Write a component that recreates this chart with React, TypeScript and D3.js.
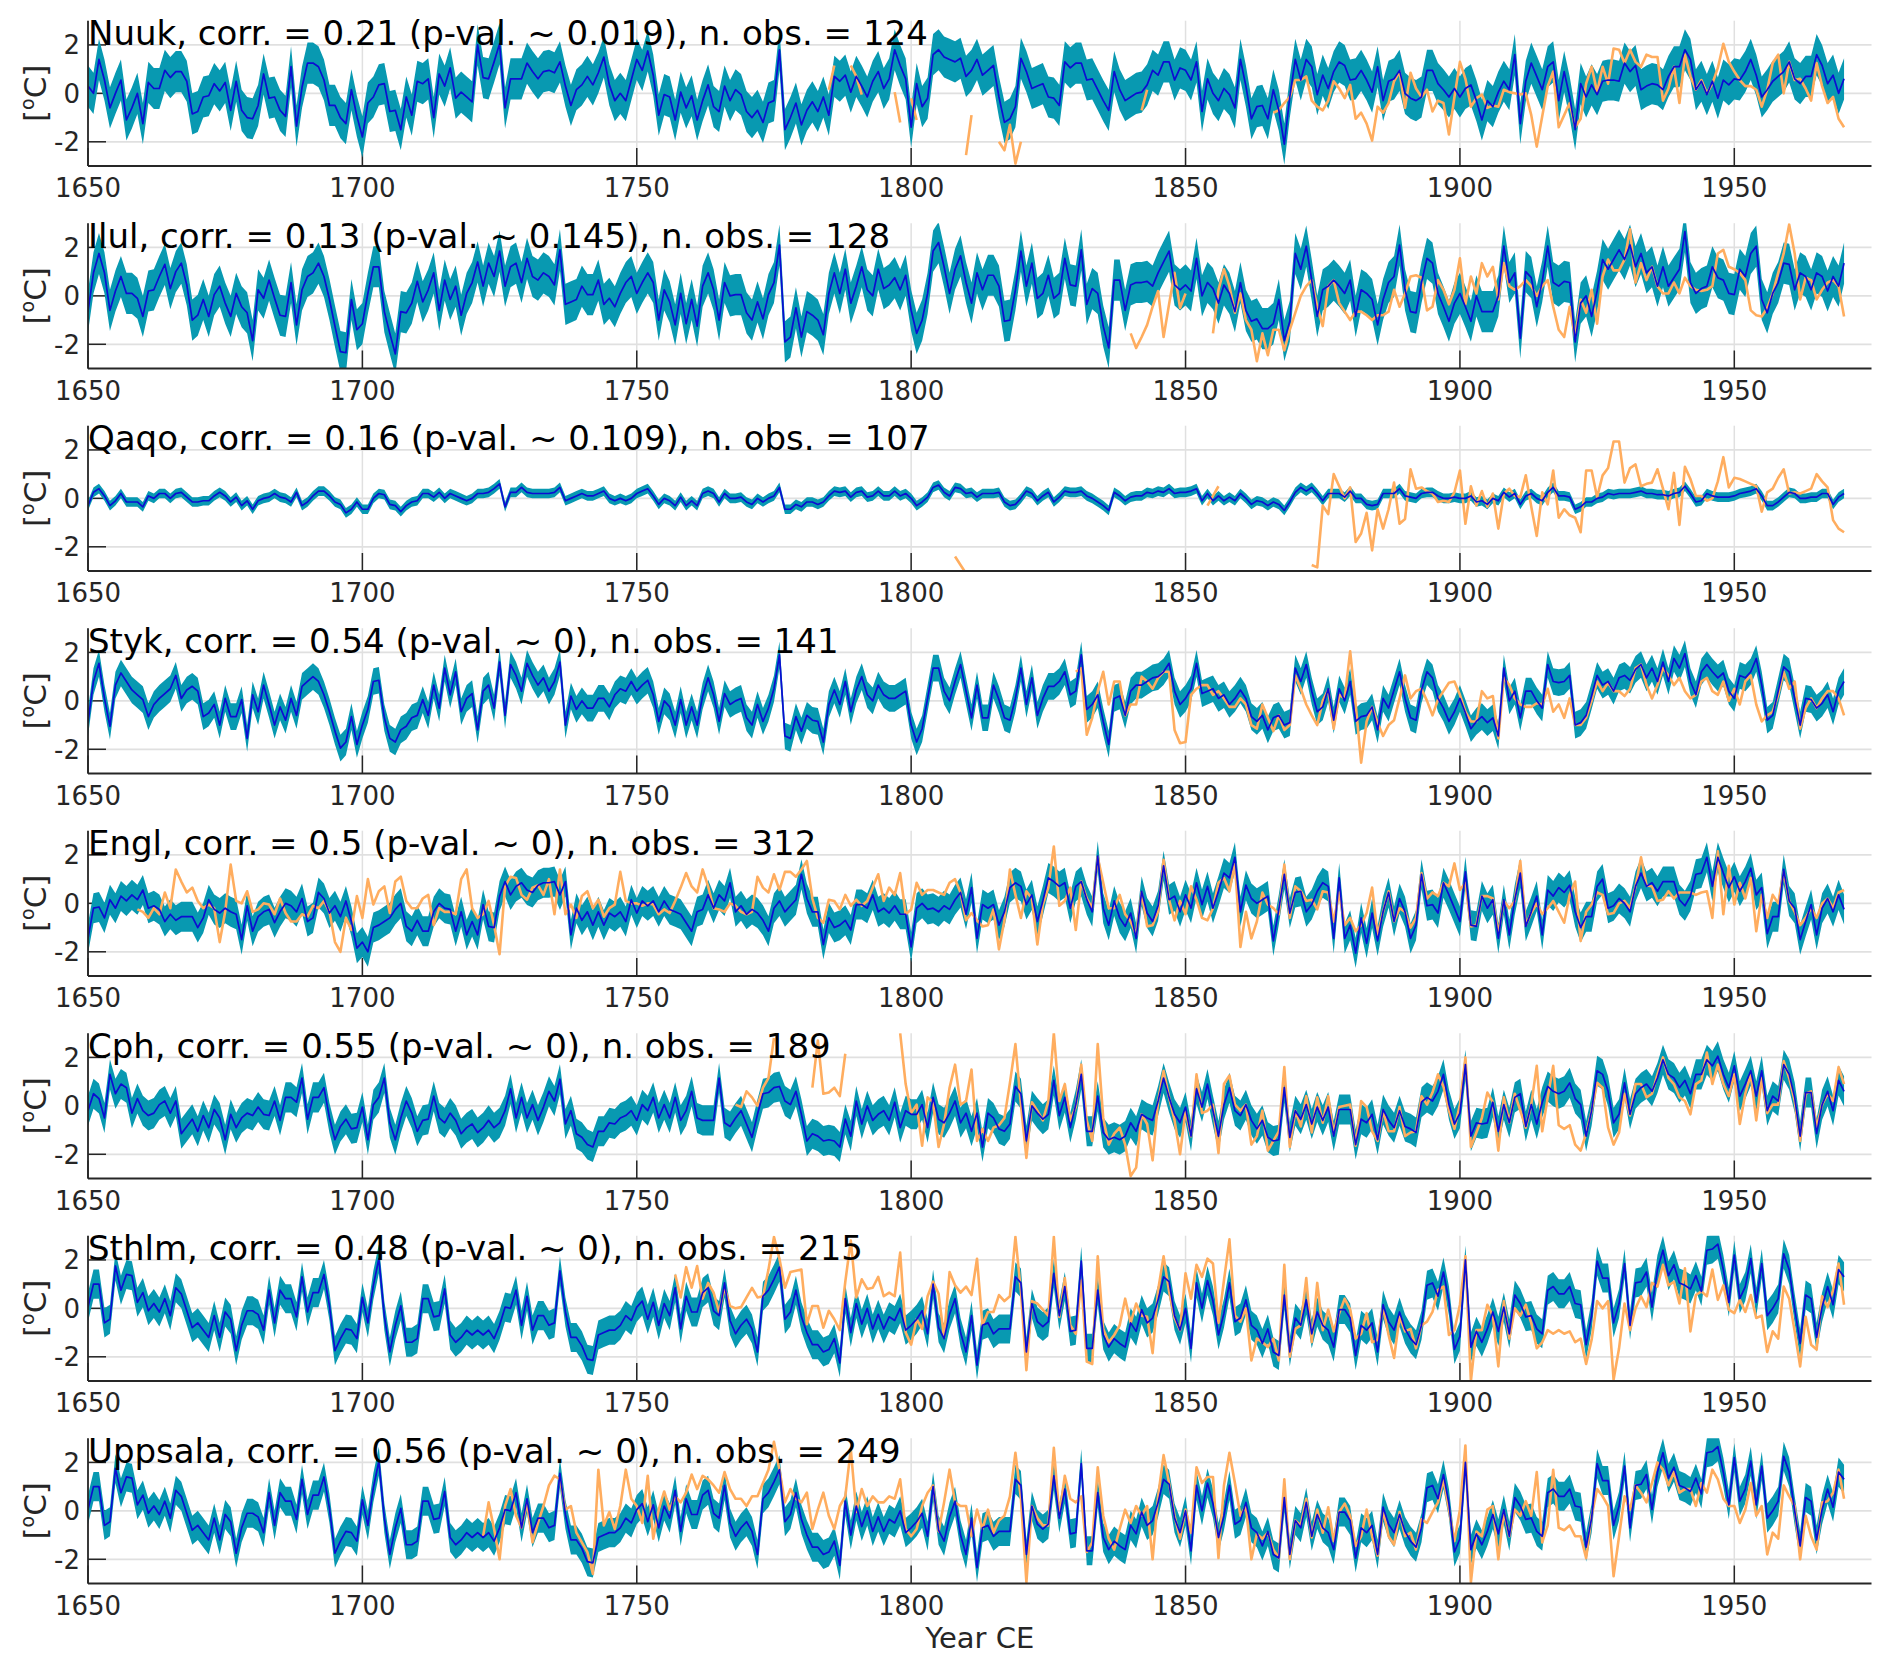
import React from 'react';
import * as d3 from 'd3';

const N = null;

// ---- station meta ----
const stationNames = ['Nuuk', 'Ilul', 'Qaqo', 'Styk', 'Engl', 'Cph', 'Sthlm', 'Uppsala'];
const corrValues = ['0.21', '0.13', '0.16', '0.54', '0.5', '0.55', '0.48', '0.56'];
const pValues = ['0.019', '0.145', '0.109', '0', '0', '0', '0', '0'];
const nObs = [124, 128, 107, 141, 312, 189, 215, 249];
const bandHalfWidth = [0.85, 0.85, 0.2, 0.55, 0.62, 0.62, 0.6, 0.6];
const reconStartYear = 1650;
const obsStartYear = [1785, 1840, 1808, 1830, 1659, 1768, 1757, 1722];
const xTickYears = [1650, 1700, 1750, 1800, 1850, 1900, 1950];
const yTickValues = [-2, 0, 2];

// ---- reconstructions (1650-1970) ----
const nuukRecon = [
  0.3, 0.0, 1.4, 0.55, -0.6, 0, 0.55, -1.1, -0.6, 0,
  -1.25, 0.45, 0.2, 0.2, 0.95, 0.65, 0.9, 0.9, 0.5, -0.85,
  -0.75, -0.15, -0.1, 0.4, 0.1, 0.45, -0.7, 0.5, -0.7, -1.0,
  -1.05, -0.5, 0.8, -0.2, -0.15, -0.7, -0.95, 1.1, -1.35, 0.25,
  1.25, 1.25, 1.1, 0.55, -0.5, -0.5, -1.0, -1.25, 0.15, -0.95,
  -1.8, -0.4, -0.15, 0.35, 0.4, -0.75, -0.7, -1.5, -0.15, -0.9,
  0.5, 0.4, 0.6, -1.0, 0.8, 0.3, 1.05, -0.2, 0.05, -0.15,
  -0.35, 2.0, 0.65, 0.6, 1.3, 2.05, -0.6, 0.6, 0.6, 0.6,
  1.25, 0.9, 0.6, 0.9, 0.95, 0.85, 1.3, 0.3, -0.5, 0.15,
  0.35, 0.7, 0.35, 0.85, 1.5, 0.35, -0.3, 0, -0.3, 0.55,
  1.4, 0.95, 1.75, 0.75, -0.9, -0.05, -0.15, -1.1, 0.05, -0.6,
  -0.1, -1.1, -0.3, 0.35, -0.55, -0.75, 0.3, -0.3, 0.15, -0.05,
  -0.75, -1.0, -0.7, -1.2, -0.4, -0.3, 1.8, -1.5, -1.0, -0.4,
  -1.3, -0.7, -0.35, -0.75, -0.15, -0.9, 0.7, 0.5, 0.75, 0.05,
  0.7, 0.3, -0.15, 0.5, 0.9, 0.2, 0.6, 1.8, 1.15, 0.6,
  -1.4, 0.4, -0.55, -0.2, 1.6, 1.8, 1.5, 1.4, 1.3, 1.45,
  0.7, 0.95, 1.4, 0.75, 0.95, 1.15, -0.15, -1.2, -1.05, -0.55,
  1.45, 0.9, 0.2, 0.3, 0.4, -0.15, -0.2, -0.5, 1.3, 1.05,
  1.25, 1.25, 0.55, 0.6, 0.15, -0.3, -0.7, 0.9, 0.15, -0.3,
  -0.15, 0, 0.05, 0.35, 0.95, 0.75, 1.3, 1.3, 0.55, 1.05,
  0.95, 0.55, 1.3, -0.75, 0.6, 0, -0.3, 0.2, -0.05, -0.6,
  1.4, 0.3, -1.05, -0.55, -0.5, -1.05, 0.15, -0.7, -2.1, -0.15,
  1.4, 0.55, 1.4, 1.1, -0.05, 0.75, 0.2, 0.9, 1.3, 1.15,
  0.55, 0.6, 0.95, 0.55, 0.05, 1.1, -0.3, 0.5, 0.6, 0.95,
  0, -0.2, -0.3, -0.15, 0.95, 0.95, 0.4, 0.15, -0.15, 0.2,
  -0.15, 0.2, 0.35, -0.3, -1.1, -0.3, -0.55, 0.05, 0.5, 0.15,
  1.6, -1.25, 0.5, 1.25, 0.7, 0.15, 1.1, 1.3, -0.3, 0.9,
  -0.15, -1.5, 0.4, -0.15, 0.35, -0.05, 0.5, 0.55, 0.55, 0.5,
  1.25, 0.9, 1.15, 0.15, 0.3, 0.4, 0.35, 0.15, 0.7, 1.1,
  1.1, 1.8, 1.4, 0.15, 0.5, -0.05, 0.5, -0.2, 0.55, 0.35,
  0.6, 0.55, 0.9, 1.4, 0.75, -0.15, 0.15, 0.5, 0.7, 0.9,
  1.3, 0.6, 0.4, 0.7, 0.7, 1.6, 1.15, 0.4, 0.75, 0,
  0.6,
];

const ilulRecon = [
  -0.65, 0.95, 1.75, 0.95, -0.6, 0.2, 0.8, 0.1, 0.1, -0.1,
  -0.85, 0.2, 0.25, 0.8, 1.3, 0.3, 1.0, 1.35, 0.45, -1.0,
  -0.8, -0.15, -0.85, 0.05, 0.4, -0.3, -0.85, 0.1, -0.45, -0.7,
  -1.85, 0.25, -0.1, 0.65, -0.1, -0.8, -0.85, 0.55, -1.2, 0.25,
  0.8, 0.95, 1.35, 0.8, -0.15, -1.25, -2.3, -2.35, -0.15, -1.4,
  -1.15, 0.1, 1.2, 1.2, -0.65, -1.55, -2.4, -0.65, -0.7, -0.3,
  0.6, -0.25, 0.25, 0.95, -0.6, 0.65, -0.15, 0.4, -0.8, 0.1,
  0.55, 1.4, 0.4, 1.35, 0.8, 1.85, 0.4, 1.2, 1.35, 0.55,
  1.55, 0.8, 0.65, 0.95, 0.8, 0.45, 1.9, -0.35, -0.25, -0.15,
  0.4, 0.05, 0.05, 0.65, -0.35, -0.1, -0.45, 0.1, 0.55, 0.8,
  0.1, 0.55, 0.95, 0.55, -1.0, 0.25, -0.25, -1.2, 0.1, -1.15,
  -0.15, -1.25, 0.4, 0.95, 0.25, -1.0, 0.55, 0, 0.05, 0.05,
  -0.7, -1.0, -0.25, -0.95, 0.05, 0.55, 2.1, -1.9, -1.7, -0.5,
  -1.7, -0.65, -0.8, -1.0, -1.6, 0.1, 0.95, 0.1, 1.1, -0.3,
  0.4, 1.2, 0.25, 0, 1.1, 0.3, 0.45, 0.75, 0.25, 0.85,
  -0.6, -1.55, -1.0, 0.1, 1.85, 2.2, 1.2, 0.1, 1.1, 1.65,
  0.55, -0.3, 0.95, 0.25, 0.85, 0.85, 0.4, -1.05, -1.0, 0.25,
  1.85, 0.4, 1.35, -0.1, 0.1, 0.85, -0.1, 0.1, 1.55, 0.45,
  0.4, 1.9, -0.35, 0.3, 0.1, -1.25, -2.15, 0.65, 0.65, -0.6,
  0.45, 0.55, 0.55, 0.6, 0.4, 0.95, 1.4, 1.85, 0.45, 0.25,
  0.45, 0.2, 1.55, 0, 0.55, 0.3, -0.3, 0.45, 0.1, -0.65,
  0.55, -0.6, -1.05, -0.95, -1.35, -1.35, -1.15, -0.15, -1.85, -1.05,
  1.75, 1.1, 2.05, 0.65, -0.85, 0.25, 0.4, 0.65, 0.4, 0.1,
  0.65, -0.85, 0.25, 0.1, -0.15, -1.2, -0.15, 0.55, 0.8, 2.1,
  0.25, -0.65, -0.7, 0.55, 1.55, 1.35, 0.1, -0.45, -1.05, -0.3,
  0.1, -0.45, -1.05, 0, -0.65, -0.65, -0.65, 0, 2.05, 0.55,
  0.95, -1.75, 1.0, 0.75, -0.45, 0.6, 2.05, 0.55, 0.4, 0.6,
  0.55, -1.9, -0.3, 0, -0.85, 0.2, 1.5, 1.1, 1.5, 1.9,
  1.5, 2.1, 1.2, 1.75, 0.95, 1.2, 0.4, 1.2, 0.4, 0.75,
  1.1, 2.65, 0.55, 0.1, 0.3, 0.4, 1.2, 0.75, 0.65, 0.1,
  0.05, 1.1, 0.8, 1.75, 2.05, -0.15, -0.7, 0.1, 0.55, 1.35,
  1.3, 0.25, 0.95, 0.8, 0.25, 0.95, 0.8, 0.2, 0.8, 0.4,
  1.35,
];

const qaqoRecon = [
  -0.3, 0.25, 0.4, 0.1, -0.3, -0.1, 0.2, -0.15, -0.15, -0.15,
  -0.35, 0.1, 0, 0.2, 0.2, 0, 0.2, 0.25, 0.05, -0.15,
  -0.15, -0.1, -0.1, 0.1, 0.25, 0.1, -0.15, 0.05, -0.3, -0.1,
  -0.45, -0.1, 0, 0.05, 0.2, 0.05, 0, -0.15, 0.25, -0.3,
  -0.15, 0.1, 0.3, 0.3, 0.1, -0.15, -0.25, -0.6, -0.45, -0.15,
  -0.45, -0.45, 0, 0.2, 0.15, -0.25, -0.3, -0.55, -0.3, -0.15,
  -0.1, 0.2, 0.2, 0.05, 0.25, 0, 0.2, 0.1, 0, -0.1,
  0, 0.2, 0.2, 0.25, 0.4, 0.6, -0.35, 0.25, 0.25, 0.45,
  0.25, 0.2, 0.2, 0.2, 0.2, 0.25, 0.45, -0.1, 0, 0.1,
  0.2, 0.1, 0.1, 0.2, 0.3, 0, -0.1, 0, -0.1, 0,
  0.2, 0.3, 0.4, 0.1, -0.25, 0, -0.1, -0.3, 0.05, -0.3,
  -0.1, -0.3, 0.2, 0.3, 0.2, -0.15, 0.2, 0, 0, 0.05,
  -0.15, -0.25, 0, -0.15, 0, 0.1, 0.45, -0.45, -0.45, -0.25,
  -0.35, -0.15, -0.15, -0.25, -0.15, 0.1, 0.3, 0.25, 0.3, 0.05,
  0.25, 0.3, 0.05, 0.1, 0.3, 0.1, 0.1, 0.3, 0.1, 0.2,
  0, -0.3, -0.15, 0.05, 0.45, 0.55, 0.25, 0.1, 0.45, 0.4,
  0.2, 0.25, 0.05, 0.2, 0.2, 0.2, 0.25, -0.15, -0.3, -0.25,
  0, 0.3, 0.2, -0.1, 0.1, 0.25, -0.15, 0.05, 0.3, 0.25,
  0.25, 0.3, 0.1, 0, -0.15, -0.3, -0.5, 0.25, 0.1, -0.1,
  0.05, 0.1, 0.1, 0.25, 0.2, 0.3, 0.25, 0.4, 0.2, 0.25,
  0.25, 0.3, 0.4, -0.1, 0.2, -0.1, 0.1, -0.1, 0.05, -0.1,
  0.2, 0, -0.25, -0.1, -0.15, -0.3, -0.15, -0.25, -0.5, -0.15,
  0.25, 0.45, 0.3, 0.45, 0.2, -0.1, 0.2, 0.2, 0.2, 0.05,
  0.3, 0, 0, -0.25, -0.3, -0.25, 0.2, 0.2, 0.2, 0.4,
  0.1, 0.05, 0, 0.2, 0.25, 0.25, 0.1, 0, 0, 0.05,
  0, 0, 0.1, -0.15, -0.1, -0.25, 0, -0.1, 0.25, 0.05,
  0.2, -0.25, 0.1, 0.2, 0, -0.1, 0.25, 0.45, 0.1, 0.1,
  0.05, -0.45, -0.35, -0.15, -0.15, 0, 0.05, 0.2, 0.15, 0.2,
  0.2, 0.2, 0.25, 0.3, 0.2, 0.2, 0.15, 0.15, 0.1, 0.2,
  0.25, 0.5, 0.2, -0.15, -0.1, 0.2, 0.1, 0.05, 0.05, 0.05,
  0.1, 0.2, 0.25, 0.3, 0.4, 0.1, -0.3, -0.3, -0.15, 0.05,
  0.25, 0.2, 0, 0, 0.05, 0.05, 0.2, 0.2, -0.25, 0.05,
  0.2,
];

const stykRecon = [
  -0.9, 0.8, 1.55, 0.1, -1.05, 0.65, 1.15, 0.8, 0.45, 0.25,
  0.05, -0.65, -0.15, 0.1, 0.3, 0.5, 1.05, 0.1, 0.45, 0.6,
  0.4, -0.65, -0.5, -0.15, -1.0, 0.1, -0.65, -0.65, 0.05, -1.55,
  0.25, -0.45, 0.65, -0.15, -1.0, -0.25, -0.8, 0.1, -0.6, 0.6,
  0.8, 1.0, 0.8, 0.25, -0.45, -1.25, -1.95, -1.7, -0.65, -1.8,
  -1.0, -0.35, 0.8, 0.85, -0.7, -1.55, -1.7, -1.2, -1.05, -0.7,
  -0.6, 0.05, -0.6, 0.65, -0.3, 1.35, 0.25, 1.2, -0.45, 0.1,
  0.3, -1.2, 0.4, 0.65, -0.3, 1.6, -0.6, 1.5, 1.05, 0.4,
  1.55, 1.05, 0.65, 0.95, 0.4, 0.8, 1.6, -1.0, 0.2, -0.35,
  0, -0.3, -0.3, 0.1, 0.1, -0.25, 0.25, 0.5, 0.4, 0.8,
  0.4, 0.65, 0.85, 0.25, -0.85, 0, -0.25, -1.0, 0.05, -1.0,
  -0.25, -1.0, 0.2, 0.95, 0.25, -0.85, 0.3, -0.15, 0, 0.1,
  -0.7, -1.0, -0.15, -0.85, -0.3, 0.5, 1.9, -1.45, -1.55, -0.65,
  -1.25, -0.6, -0.8, -0.85, -1.7, -0.15, 0.45, -0.15, 0.8, -0.45,
  0.45, 1.0, 0.25, 0, 0.65, 0.25, 0.1, 0.1, 0.25, 0.4,
  -1.0, -1.7, -1.15, 0.1, 1.35, 1.35, 0.4, 0, 0.8, 1.5,
  0.4, -0.7, 0.65, -0.7, -0.7, 0.65, 0.05, -0.7, -0.8, 0.1,
  1.35, -0.15, 0.95, -0.6, 0.1, 0.6, 0.6, 0.8, 1.2, 0.25,
  0.4, 1.9, -0.35, -0.15, 0.25, -0.85, -1.8, 0.1, 0.2, -0.6,
  0.4, 0.65, 0.65, 0.8, 0.95, 1.0, 1.2, 1.55, 0.4, -0.15,
  0.1, 0.5, 1.55, 0.3, 0.4, 0.5, 0.1, 0.25, -0.15, 0.1,
  0.45, 0.1, -0.65, -0.85, -0.6, -1.2, -0.7, -0.6, -1.0, -0.9,
  1.35, 0.8, 1.5, 0.4, -0.45, -0.25, 0.5, -0.8, 0.5, 0,
  0.8, -0.85, -0.65, -0.6, -0.25, -1.2, 0.1, -0.3, 0.45, 1.2,
  0.1, -0.7, -0.8, 0.45, 1.2, 0.95, 0.1, -0.3, -0.85, -0.45,
  0.1, -0.5, -1.15, -0.85, -0.65, -0.9, -0.7, -1.45, 1.35, 0,
  0.4, -0.7, 0.4, 0.4, 0, -0.3, 1.5, 0.8, 0.75, 0.8,
  1.05, -1.0, -0.9, -0.6, 0.2, 1.05, 0.65, 0.8, 0.4, 0.95,
  1.05, 0.85, 1.3, 1.5, 0.95, 1.35, 0.8, 1.6, 0.8, 1.75,
  1.35, 1.95, 0.8, 0.25, 1.2, 1.5, 1.2, 0.95, 1.15, 0.4,
  0.1, 1.05, 0.95, 1.2, 1.75, 0.65, -0.8, -0.6, 0.4, 1.4,
  1.2, 0.1, -1.0, 0.1, 0.05, -0.3, -0.1, 0.25, -0.45, 0.4,
  0.8,
];

const englRecon = [
  -1.45, -0.2, -0.15, -0.6, 0.15, -0.2, 0.3, 0.1, 0.35, 0.15,
  0.55, -0.2, -0.1, -0.25, -0.75, -0.45, -0.7, -0.55, -0.55, -0.55,
  -1.0, -0.6, 0.15, -0.25, -0.4, -0.2, -0.35, -0.45, -1.5, -0.1,
  -1.15, -0.55, -0.35, -0.25, -0.8, -0.35, 0, -0.1, -0.35, 0.2,
  -0.75, -0.6, 0.45, 0.2, -0.4, -0.1, -0.55, 0.1, -0.75, -1.85,
  -1.6, -2.0, -1.0, -0.9, -0.75, -0.6, -0.25, 0, -0.95, -1.15,
  -0.7, -1.15, -1.15, -0.35, 0, -0.2, -0.25, -1.15, -0.35, -1.3,
  -0.75, -1.3, -0.05, -0.95, -1.0, 0.3, 0.9, 0.35, 0.7, 0.85,
  0.55, 0.45, 0.75, 0.85, 0.85, 0.9, 0.35, 0.9, -1.3, -0.2,
  -0.7, -0.35, -0.9, -0.35, -0.9, -0.4, -0.55, -0.35, -0.75, 0.15,
  -0.4, 0.1, -0.1, 0.1, -0.35, 0.1, -0.25, -0.35, -0.45, -0.8,
  -1.15, -0.35, -0.25, 0.35, -0.2, 0.35, 0.1, 0.85, -0.35, -0.1,
  -0.45, -0.25, -0.4, -0.7, -1.15, -0.2, 0.1, -0.35, -0.1, 0.15,
  1.2, 0.2, -0.35, -0.35, -1.7, -0.6, -1.0, -0.9, -0.7, -1.1,
  -0.05, -0.05, -0.2, 0.35, -0.35, -0.2, -0.4, -0.1, -0.45, -0.45,
  -1.8, -0.2, 0, -0.25, -0.2, -0.35, -0.1, -0.25, 0.15, 0.45,
  -0.45, 0.65, -1.45, -0.05, -0.2, -0.05, -0.9, -0.35, 0.65, 0.85,
  0.7, -0.05, 0.35, -0.75, 0.1, 1.05, 0.9, 0.7, 0.85, -0.2,
  0.7, 0.9, 0.15, -0.35, 1.95, -0.2, -0.9, 0.1, -0.6, -0.95,
  -0.4, -1.45, 0.5, -0.4, -0.75, -0.1, 1.55, 0.15, 0.3, -0.35,
  0.35, -0.2, 0.85, -0.05, 0.7, -0.2, 0.5, 1.25, 1.05, 1.9,
  -0.35, 0.75, 0.2, 0, 0.15, 0.3, -1.55, -0.25, 1.2, -0.4,
  0.45, 0.5, -0.35, -0.05, 0.5, 0.85, 0.7, -1.45, 1.05, -1.45,
  -0.9, -2.05, -0.6, -1.65, -0.4, -1.55, -0.35, 0.45, -0.75, 0.2,
  -0.35, -1.45, -0.9, 1.2, -0.1, -0.05, -0.4, 0.85, 0.35, -0.2,
  -0.75, 1.3, -0.9, -0.95, 0.3, -0.2, 0.15, -1.45, 0.15, -1.3,
  0.15, 1.25, -0.95, -0.35, 0.3, -1.3, 0.55, 0.3, 0.65, 0.45,
  0.75, -0.35, -1.0, -0.55, -0.55, 0.7, 1.0, -0.2, -0.1, 0.2,
  0, -0.35, 0.7, 1.25, 0.7, 0.85, 0.5, 0.9, 0.9, 0.9,
  0.15, -0.1, 0.3, 1.2, 1.25, 1.9, 0.7, 1.9, 1.25, 0.65,
  1.1, 0.5, 0.9, 1.45, 0.35, 0.65, -1.25, -0.55, -0.55, 1.4,
  0.1, -0.2, -1.5, -0.75, -0.05, -1.3, -0.2, 0.2, -0.35, 0.35,
  -0.25,
];

const cphRecon = [
  -0.2, 0.5, 0.3, -0.5, 1.3, 0.5, 0.9, 0.75, -0.3, 0.3,
  -0.2, -0.4, -0.3, 0.05, 0.2, -0.3, 0.2, -1.15, -0.85, -0.55,
  -1.05, -0.4, -0.9, -0.15, -0.5, -1.4, -0.35, -0.9, -0.5, -0.3,
  -0.4, -0.05, -0.35, -0.4, 0.2, -0.6, 0.35, 0.35, 0.15, 1.15,
  -0.55, 0.35, 0.35, 0.75, -0.5, -1.4, -0.85, -0.55, -0.95, -0.9,
  -0.05, -1.4, 0.05, 0.35, 1.15, -0.7, -1.4, -0.5, 0.2, -0.3,
  -1.05, -0.6, -0.55, 0.4, -0.5, -0.7, -0.3, -0.6, -1.15, -0.9,
  -0.75, -1.1, -0.9, -0.6, -0.9, -0.7, -0.2, 0.7, -0.5, 0.35,
  -0.5, 0.05, -0.6, -0.05, 0.6, 0.2, 1.1, -0.75, -0.2, -1.15,
  -1.3, -1.6, -1.7, -1.05, -1.05, -0.7, -0.75, -0.5, -0.4, -0.2,
  -0.6, 0.05, -0.2, 0.35, -0.5, 0.05, -0.5, 0.35, -0.6, -0.2,
  0.6, -0.5, -0.6, -0.6, -0.6, 1.15, -0.7, -0.85, -0.5, -0.2,
  -0.75, -1.3, -0.35, 0.5, 0.55, 0.75, 0.8, 0.2, 0.05, 0.6,
  -0.35, -1.45, -1.15, -1.25, -1.45, -1.4, -1.45, -1.7, -0.55, -1.25,
  0.2, -0.75, 0, -0.6, -0.35, -0.2, -0.6, 0.15, -0.9, -0.2,
  -0.35, -0.35, 0.05, -0.9, 0.35, -0.55, -0.7, -0.3, 0.2, -0.7,
  -0.3, -1.05, -0.3, -1.7, -0.3, -0.5, -0.95, -1.05, -0.75, 0.8,
  0.5, -1.45, 0, -0.3, -0.55, -0.35, 1.05, -0.4, 0.35, -0.9,
  0.05, 1.3, -1.05, -1.05, 0.4, -1.1, -1.4, -1.3, -1.4, -1.25,
  -0.7, -1.05, -0.35, -0.5, -0.6, 0.2, 1.15, 0.35, -0.35, -0.7,
  -0.05, -1.25, 0.7, -0.05, 0.9, -0.2, -1.25, 0.05, 0.75, -0.2,
  -0.4, 0.05, -0.6, -0.95, -0.6, -1.3, -1.45, -1.4, 0.75, -1.3,
  -0.2, -0.55, 0.05, -0.75, -0.05, -0.6, -0.05, -1.25, -0.15, -0.15,
  -0.15, -1.6, -0.55, -0.7, -0.35, -1.4, -0.15, -0.6, -0.9, -0.2,
  -0.85, -0.95, -1.1, 0.15, 0.35, 0.2, 0.6, 1.3, 0.05, -0.75,
  -0.3, 1.7, -1.25, -0.7, -0.75, -0.7, 0.15, -1.05, 0.05, -0.7,
  0.35, 0.5, -0.85, 0.05, -0.75, 0.15, 0.8, 0.6, 0.5, 0.6,
  0.95, 0.3, 0.05, -1.25, -0.2, 1.45, 1.3, 0.6, -0.7, -0.35,
  0.95, -0.35, 0.5, 0.75, 0.9, 0.6, 1.15, 1.9, 1.3, 1.15,
  0.75, 1.05, 0.5, 1.3, 1.3, 1.9, 1.65, 2.05, 1.3, 0.75,
  1.65, 0.4, 0.9, 1.45, 0.4, 1.45, -0.2, 0.4, 0.2, 1.7,
  1.3, 0.35, -1.25, 0.55, 0.55, -1.15, 0.05, 0.6, -0.2, 1.05,
  0.6,
];

const sthlmRecon = [
  0.05, 1.0, 1.0, -0.6, -0.45, 1.75, 0.75, 1.4, 1.35, 0.25,
  0.65, -0.1, 0.2, -0.15, 0.4, -0.3, 0.85, 0.6, -0.1, -0.8,
  -0.6, -0.9, -1.2, -0.3, -1.2, -0.15, -0.45, -1.75, -0.7, -0.1,
  -0.1, -0.25, -0.9, 0.75, -0.6, 0.75, 0.4, 0.4, -0.35, 1.3,
  -0.15, 0.65, 0.65, 1.4, 0.1, -1.75, -1.25, -0.85, -0.9, -1.25,
  0.45, -0.6, 0.95, 2.05, -0.3, -1.8, -0.7, 0.1, -1.4, -1.4,
  -1.25, 0.4, 0.4, -0.35, -0.3, 0.8, -1.1, -1.4, -1.2, -0.9,
  -1.1, -0.9, -1.1, -0.9, -1.25, -0.7, 0.05, 0, 0.75, -0.7,
  0.5, -0.9, -0.3, -0.3, -0.7, -0.6, 1.55, -0.15, -1.2, -1.2,
  -1.55, -2.1, -2.15, -1.1, -1.0, -0.9, -0.9, -0.7, -0.3, -0.5,
  0.05, 0.3, -0.45, 0.25, -0.7, 0.2, -0.3, 0.85, -0.85, 0.5,
  -0.15, -0.15, 0.65, 0.85, -0.1, -0.3, 1.05, -0.5, -1.05, -0.7,
  -0.45, -0.85, -1.8, 0.5, 0.75, 1.2, 1.7, -0.45, -0.15, 0.75,
  -0.35, -1.0, -1.5, -1.5, -1.8, -1.7, -1.25, -2.25, 0.4, -1.0,
  0.2, -0.65, 0, -0.85, -0.25, -0.85, -0.35, -0.5, 0, -0.9,
  -0.7, -0.45, -0.1, -1.05, 1.0, -0.8, -1.25, -0.25, 0.4, -1.0,
  -1.8, -0.3, -2.35, -0.7, -0.6, -1.05, -0.85, -0.85, -0.85, 1.3,
  1.05, -1.8, 0.2, -0.55, -0.75, -0.55, 1.45, -0.3, 0.9, -0.95,
  -0.9, 1.95, -1.65, -1.65, 0.75, -1.1, -1.6, -1.25, -1.45, -1.6,
  -0.6, -0.95, -0.05, -0.6, -0.4, 0.35, 1.3, 1.1, -0.3, -0.9,
  0, -1.65, 1.05, 0, 1.15, 0.3, -1.1, -0.2, 1.05, -0.55,
  -0.4, 0.35, -0.7, -0.9, -1.45, -0.85, -1.8, -1.95, 0.55, -1.8,
  -0.4, -0.7, 0.35, -1.05, -0.15, -0.7, -0.9, -1.6, -0.05, -0.05,
  -0.4, -1.95, -0.7, -0.9, -0.6, -1.8, 0.15, -0.55, -0.9, -0.15,
  -0.85, -1.25, -1.5, -0.7, 0.95, 1.05, 0.5, 1.5, 0.3, -1.7,
  -1.15, 2.0, -1.6, -0.95, -1.4, -0.85, -0.15, -0.95, 0.05, -1.05,
  0.55, 0.2, -0.35, -0.3, -0.85, -1.05, 0.75, 0.9, 0.6, 0.6,
  0.9, 0.2, 0.15, -1.5, -0.3, 1.95, 1.25, 1.25, -0.6, 0.2,
  1.85, -0.7, 1.05, 1.1, 1.5, 0.05, 1.6, 2.4, 1.35, 1.8,
  1.05, 0.95, 0.8, 1.35, 0.7, 2.4, 2.45, 2.65, 1.6, 0.25,
  2.2, 0.4, 0.9, 2.05, 0.25, 1.85, -0.3, 0, 0.4, 2.25,
  1.6, 0, -1.45, 0.55, 0.4, -1.2, 0.05, 0.9, 0.15, 1.6,
  1.3,
];

// Uppsala's reconstruction reads the same as Stockholm's in the figure
const uppsalaRecon = sthlmRecon;

// ---- observations (start year in obsStartYear, null = missing) ----
const nuukObs = [
  0.15, 1.15, N, N, 1.15,
  0.7, -0.05, N, N, N, N, N, 0.05, -1.2, N,
  -0.2, -1.1, N, N, N, N, N, N, N, N,
  -2.55, -0.9, N, N, N, N, -2.0, -2.35, -1.3, -2.9,
  -2.0, N, N, N, N, N, N, N, N, N,
  N, N, N, N, N, N, N, N, N, N,
  N, N, -0.7, 0.15, N, N, N, N, N, N,
  N, N, N, N, N, N, N, N, N, N,
  N, N, N, N, N, N, -0.8, -0.7, -0.4, -0.15,
  0.55, 0.55, 0.7, -0.3, -0.55, -0.7, -0.3, 0.5, 0.2, -0.2,
  0.35, -1.05, -0.8, -1.25, -1.95, -0.55, -0.8, -0.4, 0.5, 0.9,
  -0.6, 0.85, 0.2, -0.15, 0.15, -0.75, -0.3, -0.4, -1.7, -0.15,
  1.3, 0.6, -0.55, -0.2, -0.05, -0.6, -0.5, -0.55, 0.15, 0.05,
  0, -0.05, 0, -0.9, -2.2, -0.95, 0.3, 0.9, -1.4, -0.9,
  -0.4, -1.4, -1.05, 0.4, 1.1, 0.05, 1.1, 0.4, 1.85, 1.8,
  1.25, 1.8, 1.3, 1.1, 1.6, 1.5, 1.5, -0.3, 0.2, 1.1,
  -0.4, 1.6, 0.7, 0.15, 0.55, 0, 0.4, 1.05, 2.05, 1.3,
  0.9, 0.55, 0.3, 0.3, 0.15, -0.55, 0.15, 1.25, 1.6, 0,
  1.3, 0.55, 0.6, 0.2, -0.3, 1.25, 0.3, -0.4, -0.15, -1.05,
  -1.4,
];

const ilulObs = [
  -1.55, -2.15, -1.7, -1.2, -0.45, 0.2, -1.7, -0.35, 0.95, -0.5,
  0.1, N, N, N, N, -1.55, 0.25, 1.1, 0.4, -0.7,
  0.1, -1.0, -1.4, -2.7, -1.55, -2.45, -1.4, -1.4, -2.25, -1.4,
  -0.7, 0, 0.4, 0.65, -0.45, -1.25, 0.4, 0.65, -0.3, -0.65,
  -1.0, -0.65, -0.65, -0.8, -1.0, -0.8, -0.8, -0.65, 0.25, -0.45,
  0.1, 0.8, 0.85, 0.75, -0.6, -0.45, 0.65, 0.25, -0.35, 0.25,
  1.55, -0.35, 0.8, 0.1, 1.35, 0.8, 1.2, -0.15, 1.35, 0.4,
  0.25, 0.4, 0.65, 0.4, 0, 0.4, 0.65, -0.45, -1.4, -1.7,
  -0.45, -1.7, -0.15, -0.7, 0.25, -1.15, 0.8, 1.5, 1.05, 1.05,
  1.5, 2.75, 0.55, 1.35, 0.65, 1.2, 0.4, 0.1, 0.1, 0.55,
  0.1, 0.75, 0.4, 0.25, 0.2, 0.25, 0.4, 1.75, 1.9, 1.2,
  1.1, 0.95, 0.65, -0.6, -0.8, -0.85, -0.5, 0.1, 0.95, 1.75,
  2.95, 1.75, -0.15, 0.75, 0.65, -0.15, 0.25, 0.55, 0.65, 0.4,
  -0.85,
];

const qaqoObs = [
  -2.4, -2.75,
  -3.1, N, N, N, N, N, N, N, N, N,
  N, N, N, N, N, N, N, N, N, N,
  N, N, N, N, N, N, N, N, N, N,
  N, N, N, N, N, N, N, N, N, N,
  N, N, N, N, -0.3, 0.1, 0.5, N, N, N,
  N, N, N, N, N, N, N, N, N, N,
  N, N, N, -2.75, -2.85, -0.3, -0.65, 1.0, 0.5, 0,
  0.45, -1.8, -1.45, -0.6, -2.15, -0.45, -1.25, -0.45, 0.65, -1.05,
  -0.85, 1.2, 0.4, 0.45, 0.3, 0.2, -0.15, -0.1, -0.15, 0.25,
  1.15, -1.05, 0.5, -0.3, 0.3, -0.35, 0.2, -1.25, 0.2, 0.4,
  0.1, 0.05, 0.95, -0.35, -1.55, 0.25, -0.25, 1.15, -0.8, -0.45,
  -0.7, -0.8, -1.4, 1.15, 1.15, 0.05, 0.95, 1.25, 2.35, 2.35,
  0.65, 1.25, 1.4, 0.5, 0.6, 0.65, 1.2, 0.4, -0.45, 1.05,
  -1.1, 1.3, 0.8, 0.1, 0.1, -0.1, 0, 0.7, 1.7, 0.45,
  0.85, 0.8, 0.7, 0.6, 0.5, -0.55, 0.25, 0.4, 0.85, 1.2,
  0.2, 0.25, 0.2, 0.3, 0.4, 1.0, 0.7, 0.45, -0.9, -1.25,
  -1.4,
];

const stykObs = [
  1.2, 1.35, -1.4, -0.7, 0.4, 1.2, -0.15, 0.8, 0.8, -0.6,
  -0.15, -0.15, 1.0, 0.8, 0.5, 0.95, 1.2, 1.2, -1.2, -1.75,
  -1.7, 0.25, 0.5, 0.65, 0.65, 0.25, 0.4, 0.1, -0.25, -0.25,
  0.1, -0.15, -1.0, -1.15, -0.15, -0.7, -1.25, -0.6, -1.2, -1.0,
  1.05, 0.5, -0.15, -0.6, -1.0, 0, 0.45, -1.15, 0.25, 0.1,
  2.05, -0.15, -2.55, -0.85, -0.25, -0.9, -1.45, -1.0, -0.8, 0.1,
  1.05, 0.1, 0.4, 0.5, 0, -0.6, 0.05, 0.4, 0.75, 0.8,
  0.25, -0.45, -0.85, -0.85, 0.4, 0.1, 0.2, -1.55, 0.95, 0.65,
  0.1, -0.15, -0.25, -0.25, -0.1, -0.15, 0.5, -0.45, -0.15, -0.7,
  0.1, -1.0, -1.0, -0.7, 0, 0.8, 0.4, 0.75, 0.4, 0.4,
  0.2, 0.5, 1.35, 1.5, 0.65, 0.1, 0.65, 1.35, 1.05, 0.65,
  0.95, 0.4, 0.1, 0.25, 0.8, 0.95, 0.4, 0.25, 0.8, 0,
  0.5, -0.15, 0.8, 1.05, -0.15, -0.85, -0.6, -0.45, 0.25, 1.2,
  0.5, 0.8, -1.15, -0.3, 0.1, -0.3, 0.1, 0.4, 0.4, 0.1,
  -0.6,
];

const englObs = [
  -0.25,
  -0.35, -0.6, -0.2, -0.45, 0.45, -0.2, 1.4, 0.9, 0.45, 0.65,
  0.1, -0.2, -0.05, -0.2, -1.6, -0.35, 1.6, 0.1, 0, 0.5,
  -0.35, -0.25, 0, -0.05, -0.45, 0.2, -0.4, -0.75, -0.75, -0.45,
  -0.55, -0.1, -0.2, 0.1, -0.35, -1.6, -2.0, -0.6, -1.1, 0.3,
  -0.6, 1.0, -0.05, 0.5, 0.7, -0.4, 0.9, 1.1, 0.1, -0.2,
  -0.2, 0.2, 0.35, -0.9, -0.2, -0.35, -0.35, -0.45, 1.0, 1.4,
  -0.2, -0.6, -0.45, 0.1, -0.9, -2.1, 0.7, 1.1, 1.05, 0.35,
  0.15, 0.65, 0.75, 0.35, 1.0, -0.45, 1.4, -0.45, -0.05, -0.6,
  0.3, 0.5, -0.2, 0.15, -0.55, -0.2, -0.05, 1.3, 0.1, 0,
  0, -0.1, 0, -0.05, -0.45, -0.25, -0.4, 0.1, 0.65, 1.25,
  0.7, 0.45, 1.4, 0.7, -0.2, -0.25, -0.35, 0, -0.1, -0.35,
  -0.45, -0.35, 1.1, 0.65, 0.45, 1.2, 0.55, 1.3, 1.3, 1.1,
  1.4, 1.75, 0.2, -0.6, -0.8, 0.15, 0.1, -0.25, 0.35, -0.1,
  0.15, -0.1, 0.1, 0.65, 1.2, 0.1, 0.65, 0.35, 1.25, -0.45,
  -0.25, 0.85, 0.35, 0.55, 0.55, 0.45, 0.35, 0.85, 1.0, 0.45,
  -0.7, -0.4, -0.7, -0.95, -0.9, -0.25, -1.9, -0.7, 1.4, 0.35,
  -0.6, 0.5, 0.2, -1.7, -0.05, 0.65, 2.35, -0.1, 0.1, 0.65,
  -1.1, 0.9, 0.2, -0.2, 1.9, 0.85, -0.2, -0.2, 0.35, -0.45,
  -0.75, -1.3, 0.45, -0.95, -0.9, -0.35, 1.8, 0.15, -0.7, 0.1,
  -0.45, 0.7, 0.15, -0.6, -0.7, -0.2, 0.85, 1.05, 0.5, 1.65,
  -1.8, -0.35, -1.45, -0.75, 0.45, -0.05, -0.2, -0.45, 1.6, -0.6,
  0.7, 0.5, 0.1, 0.15, -0.25, 0.5, 0.45, -0.75, 0.45, -0.9,
  -0.6, -1.15, -0.9, -0.4, 0.65, -1.3, -0.35, 0.5, -0.75, -0.2,
  -0.35, -1.0, -0.6, 1.25, 0.2, 0.45, 0.3, 0.85, 0.7, 1.65,
  0.55, 0.85, -0.95, -0.9, 0.3, 0.3, 0.2, -1.25, 0.1, -0.2,
  0.1, 1.75, -0.9, -0.4, 0, -0.45, -0.2, 0.1, -0.35, -0.8,
  0.35, 0.9, -1.55, -0.35, -0.05, 0.45, 0.35, -0.45, -0.4, 0,
  0.1, -0.2, 0.7, 1.9, 0.75, 0.7, 0.1, 0.15, 0.5, 0.2,
  0.45, 0.45, 0.45, 0.35, 0.45, 0.5, -0.6, 2.15, -0.45, 1.55,
  -0.05, 0.85, 0.2, 1.05, -1.15, 0.35, -0.6, 0.35, 0, 1.3,
  0.1, -0.35, -0.9, -0.6, -0.2, -0.6, 0, 0.2, -0.2, 0.45,
  0.55,
];

const cphObs = [
  0.05, -0.05,
  0.6, 0.35, 0, 0.75, 1.15, 2.8, N, N, N, N,
  N, N, 0.75, 2.7, 0.5, 0.55, 0.75, 0.4, 2.15, N,
  N, N, N, N, N, N, N, N, 3.0, 0.9,
  -0.3, 0.05, -1.65, 0.35, 0.15, -1.7, -0.75, 0.75, 1.7, 0.05,
  0.2, 1.5, -1.45, -0.95, -1.45, -0.9, -0.8, -0.5, 0.95, 2.55,
  0.05, -2.15, 0.15, -0.2, -0.6, 0.2, 3.0, 0.2, 0.9, -0.6,
  -0.05, 1.7, -0.6, -1.45, 2.55, -0.5, -1.6, -1.15, -0.9, -1.6,
  -2.9, -2.55, -0.35, -0.75, -2.25, 0.2, 1.45, 0.35, -0.6, -2.0,
  -0.2, -1.25, 1.3, -0.3, -0.2, 0.05, -1.95, 0.9, 1.25, 0.05,
  -0.2, 0.05, -1.6, -1.25, -0.2, -1.85, -1.45, -1.05, 1.6, -1.7,
  -0.2, -0.85, 0.4, -1.1, 0.35, -0.7, 0.4, -1.15, -0.05, 0,
  0.05, -1.65, 0.2, -0.05, -1.05, -1.45, -0.2, -1.05, -1.05, -0.05,
  -1.25, -1.1, -1.05, 0.4, 0.05, 0.55, 1.3, 0.8, -0.2, -0.95,
  0.05, 2.0, -1.7, -1.1, -0.5, 0.55, 0.15, -1.85, 0.35, -0.7,
  0.5, -0.2, -0.9, 0.05, 1.65, -1.05, 0.35, 1.65, -0.8, -0.95,
  -0.8, -1.6, -1.85, -1.15, -0.2, 0.95, 0.75, -0.9, -1.6, -1.1,
  0.5, -0.4, 0.9, 0.9, 0.35, 0.5, 1.3, 2.0, 1.15, 0.9,
  0.35, 0.2, -0.35, 0.9, 1.05, 2.2, 0.9, 1.7, 0.9, 0.4,
  1.3, -0.75, 0.5, 1.3, -0.6, 1.15, -0.3, 0.05, 0.05, 1.85,
  1.15, 0.2, -1.45, 0.5, 0.6, -0.9, 0.05, 0.5, 0.2, 1.6,
  0.9,
];

const sthlmObs = [
  1.4, 0.45, 1.7,
  0.85, 1.75, 0.4, 1.05, 0.65, -0.15, 0.85, 0.1, 0, 0.05,
  0.45, 0.85, 0.45, 0.5, 1.6, 2.95, 2.05, 0.85, 1.5, 1.55,
  1.6, -0.65, 0.1, 0.1, -0.8, -0.1, -0.45, -0.9, 1.1, 2.8,
  0.45, 1.2, 0.8, 0.85, 1.3, 0.5, 0.65, 0.5, 2.3, -1.0,
  -1.5, -0.45, -0.85, 0.5, 1.1, 0.6, -1.2, 1.5, 0.95, 0.65,
  0.9, 0.55, 2.05, -0.7, -0.15, -0.15, 0.55, 0.3, 0.5, 2.95,
  0.7, -2.55, 0.3, 0.2, -0.05, -0.3, 2.95, -0.35, 1.25, -0.7,
  -1.05, 1.15, -2.2, -2.3, 2.15, -0.85, -1.4, -1.1, -0.7, 0.4,
  -0.6, 0.2, -0.3, -0.35, -1.85, 0.75, 2.15, 0.7, -0.4, -0.9,
  1.45, 0.4, 1.8, 1.3, 2.05, 1.85, -0.6, 1.15, 2.85, -0.3,
  -0.55, 0, -2.15, -1.25, -1.4, -1.6, -1.25, -2.15, 1.8, -2.0,
  -0.85, -0.7, 1.25, -1.4, 1.05, -0.9, -0.05, -0.95, -0.2, 0.4,
  -0.05, -1.25, -1.05, -0.2, -1.4, -1.3, 0.05, -1.1, -2.05, -0.35,
  -0.95, -0.85, -1.65, -0.7, -0.55, -0.15, 0.75, 0.9, -1.1, -0.9,
  0.15, 2.15, -3.0, -0.9, -0.9, 0.15, -0.3, -2.4, 0.3, -1.25,
  0, -0.3, 0.15, -0.6, -1.65, -1.4, -0.9, -1.05, -0.9, -1.05,
  -0.95, -1.4, -1.25, -2.3, -1.3, 0.3, 0, 0.3, -2.95, -1.65,
  0.2, -0.9, 0, 0.5, 0.05, 1.05, 0.9, 1.8, 0.95, 1.1,
  0.2, 1.65, -0.95, 0.55, 0.7, 0.5, 1.6, 0.35, 0.95, -0.05,
  -0.2, 0.35, -0.15, 0.55, -0.4, -0.3, -1.8, -0.95, -1.25, 0.9,
  0.4, -0.95, -2.4, -0.35, -1.5, -1.7, 0.5, 0.05, 0.75, 1.85,
  0.15,
];

const uppsalaObs = [
  -1.05, 0.35, -0.75, -2.0, 0.2, 0.9, -0.2, -0.7,
  0.35, -1.3, -0.5, 0.2, 1.05, 1.45, 1.3, 0.05, 0.2, -0.9,
  -1.3, -1.7, -2.6, 1.7, -0.6, -0.05, -0.75, 0.2, 1.7, 0.5,
  0.2, -0.5, 1.45, -1.15, 0.05, 0.8, 0.05, 0.6, 0.35, 0.75,
  1.5, 0.9, 1.45, 1.3, 1.05, 0.75, 1.6, 0.9, 0.5, 0.5,
  0.2, 0.6, 0.6, 1.15, 1.7, 2.85, 1.7, 0.35, 0.9, 0.5,
  0.35, 0.75, -0.75, 0.05, 0.75, -0.2, -0.75, 0.2, 0.6, 2.55,
  -0.05, 0.9, 0.2, 0.6, 0.35, 0.35, 0.6, 0.5, 1.3, -0.75,
  -1.05, -0.75, 0.2, 0.75, 1.05, -0.85, 0.35, 1.7, 0.35, 0.2,
  0.2, -1.05, 0.05, -0.75, 0.05, -0.9, -0.4, -0.2, 0.6, 2.4,
  0.5, -2.95, 0.2, -0.3, -0.6, -0.6, 2.6, -0.2, 1.45, 0.5,
  0.35, 0.6, -1.7, -1.3, 1.8, -0.2, -1.15, -1.6, -0.75, 0.05,
  -0.5, 0.2, -0.2, 0.2, -2.0, 0.6, 2.3, 1.15, -0.2, -1.15,
  0.05, -0.9, 1.8, 1.15, 1.4, 1.4, -1.95, 1.05, 2.4, 1.15,
  -0.2, 0.2, -2.0, -0.95, -1.15, -0.9, -1.6, -1.95, 1.3, -2.0,
  -0.4, -0.6, 0.5, -1.1, 0.05, -0.9, 0.15, -1.25, -0.05, 0.3,
  -0.2, -1.45, -1.05, 0.05, -1.05, -1.85, 0.05, -1.05, -1.4, -0.05,
  -1.05, -0.9, -1.6, -0.35, -0.5, -0.05, 0.35, 1.3, 0.05, -1.25,
  0.05, 2.7, -2.95, -0.85, -1.05, 0.05, 0.2, -2.0, -0.05, -1.05,
  0.05, -0.2, 0.4, -0.2, 1.6, -1.3, -0.6, 1.7, -0.7, -0.8,
  -0.6, -1.05, -1.05, -1.95, -0.2, 0.9, 0.6, 0.2, -2.7, -1.05,
  0.6, 0.05, 1.05, 0.75, 0.35, 1.15, 2.0, 1.7, 1.05, 1.6,
  0.75, 0.9, 0.9, 0.2, 1.15, 0.75, 1.7, 1.3, 0.5, 0.2,
  0.2, -0.5, 0.05, 1.15, -0.2, 0.2, -1.8, -0.9, -1.15, 1.05,
  0.6, 0.2, -2.0, -0.2, -1.05, -1.6, 0.35, 0.4, 0.75, 1.7,
  0.5,
];

const reconSeries = [nuukRecon, ilulRecon, qaqoRecon, stykRecon, englRecon, cphRecon, sthlmRecon, uppsalaRecon];
const obsSeries = [nuukObs, ilulObs, qaqoObs, stykObs, englObs, cphObs, sthlmObs, uppsalaObs];

// ---- layout ----
const W = 1892;
const H = 1669;
const LEFT = 88;
const RIGHT = 1871.5;
const PANEL_TOP0 = 20.7;
const PANEL_H = 145.3;
const PANEL_STEP = 202.5;
const FONT = "'DejaVu Sans', 'Liberation Sans', sans-serif";
const BAND = '#0899b1';
const BLUE = '#0c0cd2';
const ORANGE = '#ffad5f';
const AXIS = '#262626';
const GRID = '#e0e0e0';

export default function App() {
  const x = d3.scaleLinear().domain([1650, 1975]).range([LEFT, RIGHT]);

  return (
    <svg
      width={W}
      height={H}
      viewBox={`0 0 ${W} ${H}`}
      style={{ position: 'absolute', left: 0, top: 0, background: '#fff' }}
      fontFamily={FONT}
    >
      <rect x={0} y={0} width={W} height={H} fill="#fff" />
      {stationNames.map((name, i) => {
        const top = PANEL_TOP0 + i * PANEL_STEP;
        const bottom = top + PANEL_H;
        const y = d3.scaleLinear().domain([-3, 3]).range([bottom, top]);
        const recon = reconSeries[i];
        const obs = obsSeries[i];
        const hw = bandHalfWidth[i];
        const area = d3
          .area<number>()
          .x((_, j) => x(reconStartYear + j))
          .y0((d) => y(d - hw))
          .y1((d) => y(d + hw));
        const reconLine = d3
          .line<number>()
          .x((_, j) => x(reconStartYear + j))
          .y((d) => y(d));
        const obsLine = d3
          .line<number | null>()
          .defined((d) => d !== null && d !== undefined)
          .x((_, j) => x(obsStartYear[i] + j))
          .y((d) => y(d as number));
        const clipId = `clip-${i}`;
        const title = `${name}, corr. = ${corrValues[i]} (p-val. ~ ${pValues[i]}), n. obs. = ${nObs[i]}`;
        return (
          <g key={name}>
            <defs>
              <clipPath id={clipId}>
                <rect x={LEFT} y={top} width={RIGHT - LEFT} height={PANEL_H} />
              </clipPath>
            </defs>
            {/* grid */}
            {xTickYears.map((t) => (
              <line key={`gx${t}`} x1={x(t)} x2={x(t)} y1={top} y2={bottom} stroke={GRID} strokeWidth={1.5} />
            ))}
            {yTickValues.map((t) => (
              <line key={`gy${t}`} x1={LEFT} x2={RIGHT} y1={y(t)} y2={y(t)} stroke={GRID} strokeWidth={1.8} />
            ))}
            {/* tick marks (below data) */}
            {xTickYears.map((t) => (
              <line key={`tx${t}`} x1={x(t)} x2={x(t)} y1={bottom} y2={bottom - 18} stroke={AXIS} strokeWidth={1.5} />
            ))}
            {yTickValues.map((t) => (
              <line key={`ty${t}`} x1={LEFT} x2={LEFT + 18} y1={y(t)} y2={y(t)} stroke={AXIS} strokeWidth={1.5} />
            ))}
            <g clipPath={`url(#${clipId})`}>
              <path d={area(recon) || ''} fill={BAND} stroke="none" />
              <path d={obsLine(obs) || ''} fill="none" stroke={ORANGE} strokeWidth={2.6} strokeLinejoin="round" />
              <path d={reconLine(recon) || ''} fill="none" stroke={BLUE} strokeWidth={1.7} strokeLinejoin="round" />
            </g>
            {/* axes */}
            <line x1={LEFT} x2={LEFT} y1={top} y2={bottom} stroke={AXIS} strokeWidth={1.8} />
            <line x1={LEFT} x2={RIGHT} y1={bottom} y2={bottom} stroke={AXIS} strokeWidth={1.8} />
            {/* tick labels */}
            {xTickYears.map((t) => (
              <text key={`lx${t}`} x={x(t)} y={bottom + 31} textAnchor="middle" fontSize={26} fill={AXIS}>
                {t}
              </text>
            ))}
            {yTickValues.map((t) => (
              <text key={`ly${t}`} x={LEFT - 8} y={y(t)} dy="0.36em" textAnchor="end" fontSize={26} fill={AXIS}>
                {t}
              </text>
            ))}
            {/* y label */}
            <text
              transform={`translate(${46},${y(0)}) rotate(-90)`}
              textAnchor="middle"
              fontSize={31}
              fill={AXIS}
            >
              [<tspan fontSize={19} dy={-12}>o</tspan>
              <tspan dy={12}>C]</tspan>
            </text>
            {/* title */}
            <text x={LEFT} y={top + 24.3} fontSize={34} fill="#000">
              {title}
            </text>
          </g>
        );
      })}
      <text x={(LEFT + RIGHT) / 2} y={1648} textAnchor="middle" fontSize={29} fill={AXIS}>
        Year CE
      </text>
    </svg>
  );
}
